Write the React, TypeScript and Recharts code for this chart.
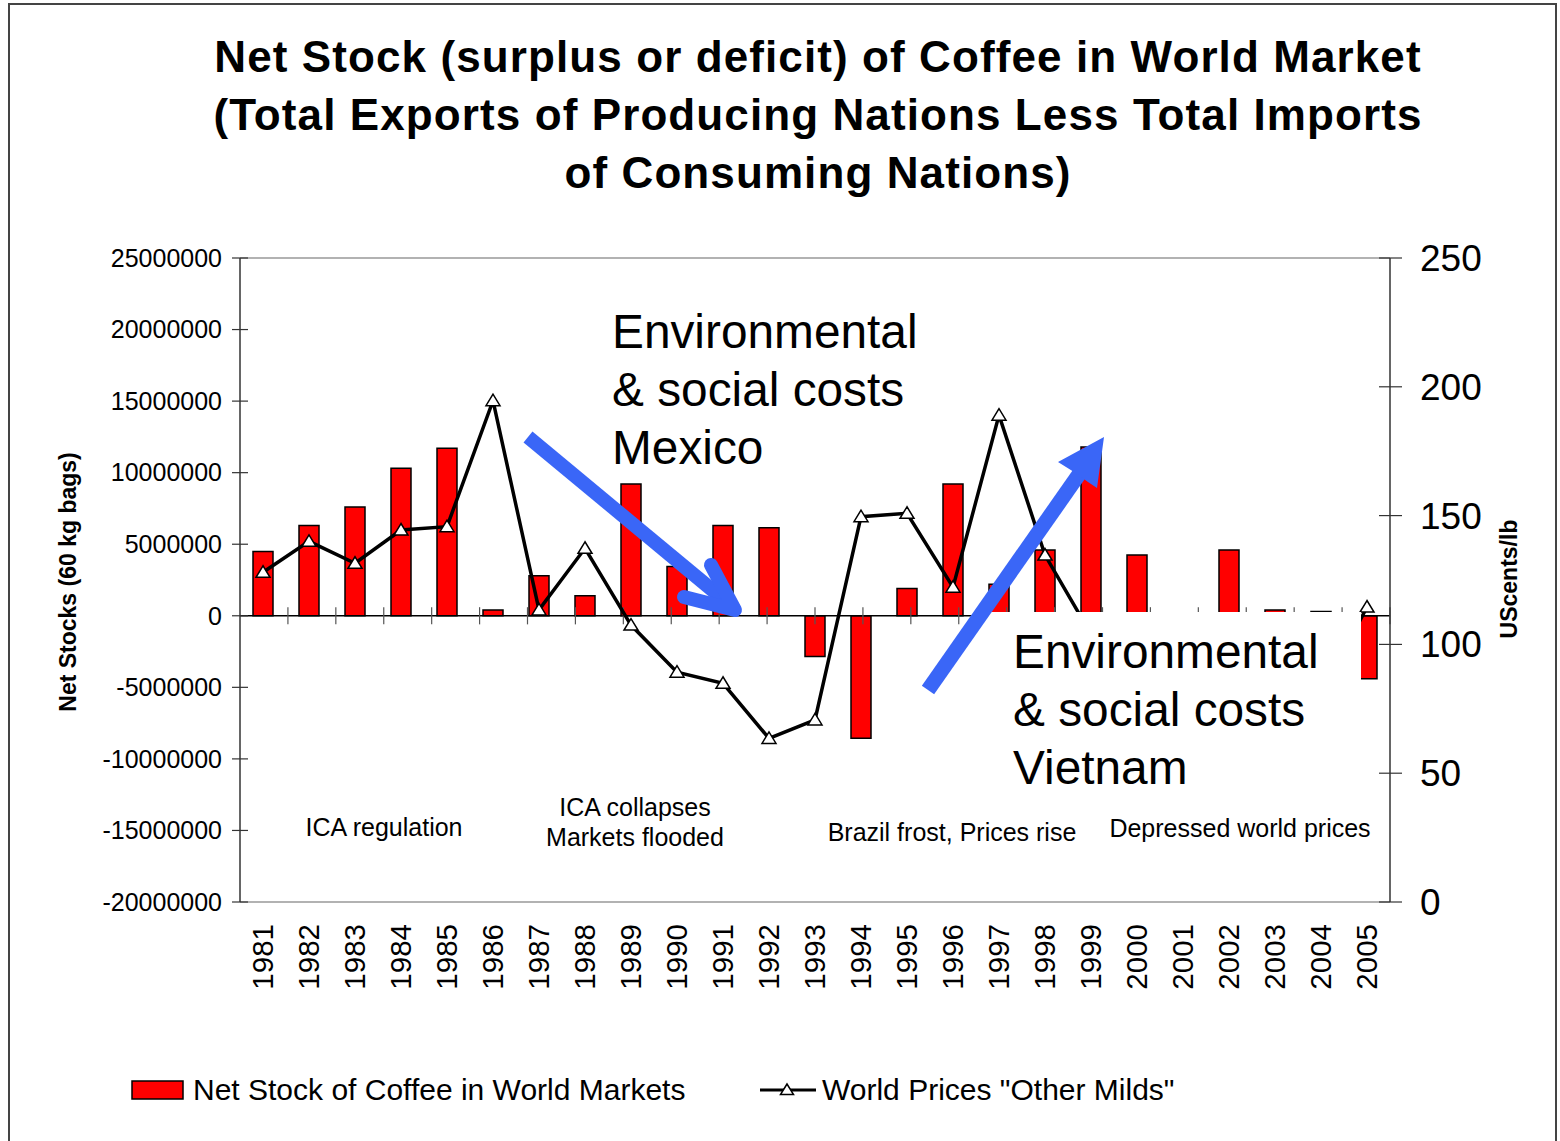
import React from "react";
import { ComposedChart, Bar, Line, XAxis, YAxis, ReferenceLine } from "recharts";

const FONT = "'Liberation Sans', Arial, sans-serif";

const years = [
  "1981", "1982", "1983", "1984", "1985", "1986", "1987", "1988", "1989", "1990",
  "1991", "1992", "1993", "1994", "1995", "1996", "1997", "1998", "1999", "2000",
  "2001", "2002", "2003", "2004", "2005",
];

// net stock, 60 kg bags
const netStock = [
  4500000, 6300000, 7600000, 10300000, 11700000, 400000, 2800000, 1400000, 9200000, 3450000,
  6300000, 6150000, -2850000, -8550000, 1900000, 9200000, 2200000, 4600000, 11800000, 4250000,
  0, 4600000, 400000, 300000, -4400000,
];

// "Other Milds" price, US cents/lb
const price = [
  128, 140, 131.5, 144.4, 145.7, 194.6, 113.4, 137.3, 107.5, 89.2,
  84.9, 63.5, 70.7, 149.6, 150.9, 122.2, 189, 134.7, 104, 87,
  62, 61, 64, 80, 114.5,
];

const leftTicks = [-20000000, -15000000, -10000000, -5000000, 0, 5000000, 10000000, 15000000, 20000000, 25000000];
const rightTicks = [0, 50, 100, 150, 200, 250];
const boundaries = [1, 2, 3, 4, 5, 6, 7, 8, 9, 10, 11, 12, 13, 14, 15, 16, 17, 18, 19, 20, 21, 22, 23, 24];

const data = years.map((year, i) => ({ year, stock: netStock[i], price: price[i] }));

const LeftTick = (props: any) => {
  const { y, payload } = props;
  return (
    <g>
      <line x1={232} x2={248} y1={y} y2={y} stroke="#333" strokeWidth={1.2} />
      <text x={222} y={y} dy="0.35em" textAnchor="end" fontSize={25} fontFamily={FONT} fill="#000">
        {payload.value}
      </text>
    </g>
  );
};

const RightTick = (props: any) => {
  const { y, payload } = props;
  return (
    <g>
      <line x1={1379} x2={1402} y1={y} y2={y} stroke="#333" strokeWidth={1.2} />
      <text x={1420} y={y} dy="0.35em" textAnchor="start" fontSize={37} fontFamily={FONT} fill="#000">
        {payload.value}
      </text>
    </g>
  );
};

const YearTick = (props: any) => {
  const { x, y, payload } = props;
  return (
    <text
      x={x}
      y={y}
      dy="0.35em"
      transform={`rotate(-90 ${x} ${y})`}
      textAnchor="end"
      fontSize={29.5}
      fontFamily={FONT}
      fill="#000"
    >
      {payload.value}
    </text>
  );
};

const TriangleDot = (props: any) => {
  const { cx, cy, index } = props;
  if (cx == null || cy == null) return <g key={index} />;
  return (
    <polygon
      key={index}
      points={`${cx},${cy - 6.5} ${cx - 7},${cy + 5} ${cx + 7},${cy + 5}`}
      fill="#fff"
      stroke="#000"
      strokeWidth={1.5}
    />
  );
};

const BLUE = "#3a66f7";

export default function App() {
  return (
    <div style={{ position: "absolute", left: 0, top: 0, width: 1560, height: 1141, overflow: "hidden", background: "#fff" }}>
      <div style={{ position: "absolute", left: 8, top: 3, width: 1545, height: 1160, border: "2px solid #444" }} />
      <div style={{ position: "absolute", left: 0, top: 0 }}>
        <ComposedChart width={1560} height={1141} data={data} margin={{ top: 258, right: 30, bottom: 139, left: 40 }}>
          <XAxis
            dataKey="year"
            xAxisId="cat"
            interval={0}
            tickLine={false}
            tickSize={0}
            tickMargin={22}
            height={100}
            axisLine={{ stroke: "#999", strokeWidth: 1.5 }}
            tick={<YearTick />}
          />
          <XAxis xAxisId="num" type="number" domain={[0, 25]} allowDataOverflow hide />
          <YAxis
            yAxisId="left"
            orientation="left"
            width={200}
            domain={[-20000000, 25000000]}
            ticks={leftTicks}
            interval={0}
            allowDataOverflow
            tickLine={false}
            axisLine={{ stroke: "#333", strokeWidth: 1.5 }}
            tick={<LeftTick />}
          />
          <YAxis
            yAxisId="right"
            orientation="right"
            width={140}
            domain={[0, 250]}
            ticks={rightTicks}
            interval={0}
            allowDataOverflow
            tickLine={false}
            axisLine={{ stroke: "#333", strokeWidth: 1.5 }}
            tick={<RightTick />}
          />
          <ReferenceLine xAxisId="cat" yAxisId="left" y={25000000} stroke="#999" strokeWidth={1.5} />
          <ReferenceLine xAxisId="cat" yAxisId="left" y={0} stroke="#000" strokeWidth={1.5} />
          {boundaries.map((b) => (
            <ReferenceLine
              key={b}
              xAxisId="num"
              yAxisId="left"
              segment={[{ x: b, y: -600000 }, { x: b, y: 600000 }]}
              stroke="#555"
              strokeWidth={1.2}
            />
          ))}
          <Bar
            xAxisId="cat"
            yAxisId="left"
            dataKey="stock"
            fill="#ff0000"
            stroke="#000"
            strokeWidth={1.5}
            barSize={20}
            isAnimationActive={false}
          />
          <Line
            xAxisId="cat"
            yAxisId="right"
            dataKey="price"
            type="linear"
            stroke="#000"
            strokeWidth={3.5}
            dot={(p: any) => <TriangleDot key={p.index} {...p} />}
            activeDot={false}
            isAnimationActive={false}
          />
        </ComposedChart>
      </div>
      <svg
        width={1560}
        height={1141}
        style={{ position: "absolute", left: 0, top: 0, pointerEvents: "none" }}
        fontFamily={FONT}
      >
        {/* title */}
        <g fontSize={44} fontWeight="bold" textAnchor="middle" fill="#000" letterSpacing={1.1}>
          <text x={818} y={72}>Net Stock (surplus or deficit) of Coffee in World Market</text>
          <text x={818} y={130}>(Total Exports of Producing Nations Less Total Imports</text>
          <text x={818} y={188}>of Consuming Nations)</text>
        </g>

        {/* axis titles */}
        <text x={68} y={582} dy="0.35em" transform="rotate(-90 68 582)" textAnchor="middle" fontSize={23} fontWeight="bold">
          Net Stocks (60 kg bags)
        </text>
        <text x={1509} y={579} dy="0.35em" transform="rotate(-90 1509 579)" textAnchor="middle" fontSize={23} fontWeight="bold">
          UScents/lb
        </text>

        {/* period labels */}
        <g fontSize={25} textAnchor="middle" fill="#000">
          <text x={384} y={836}>ICA regulation</text>
          <text x={635} y={816}>ICA collapses</text>
          <text x={635} y={846}>Markets flooded</text>
          <text x={952} y={841}>Brazil frost, Prices rise</text>
          <text x={1240} y={837}>Depressed world prices</text>
        </g>

        {/* Mexico annotation */}
        <g fontSize={47.8} fill="#000">
          <text x={612} y={348}>Environmental</text>
          <text x={612} y={406}>&amp; social costs</text>
          <text x={612} y={464}>Mexico</text>
        </g>

        {/* Vietnam annotation box */}
        <rect x={985} y={612} width={376} height={190} fill="#fff" />
        <g fontSize={47.8} fill="#000">
          <text x={1013} y={668}>Environmental</text>
          <text x={1013} y={726}>&amp; social costs</text>
          <text x={1013} y={784}>Vietnam</text>
        </g>

        {/* arrows */}
        <line x1={528} y1={437} x2={728} y2={603} stroke={BLUE} strokeWidth={14} />
        <polyline
          points="711,565 735,610 684,597"
          fill="none"
          stroke={BLUE}
          strokeWidth={14}
          strokeLinecap="round"
          strokeLinejoin="round"
        />
        <line x1={928} y1={690} x2={1082} y2={470} stroke={BLUE} strokeWidth={15} />
        <polygon points="1104,437 1058,462 1074,472 1088,482 1097,488" fill={BLUE} />

        {/* legend */}
        <rect x={132} y={1081} width={51} height={18} fill="#ff0000" stroke="#000" strokeWidth={1.5} />
        <text x={193} y={1100} fontSize={30}>Net Stock of Coffee in World Markets</text>
        <line x1={760} y1={1090} x2={816} y2={1090} stroke="#000" strokeWidth={3} />
        <polygon points="787,1084 780.5,1094.5 793.5,1094.5" fill="#fff" stroke="#000" strokeWidth={1.5} />
        <text x={822} y={1100} fontSize={30}>World Prices "Other Milds"</text>
      </svg>
    </div>
  );
}
